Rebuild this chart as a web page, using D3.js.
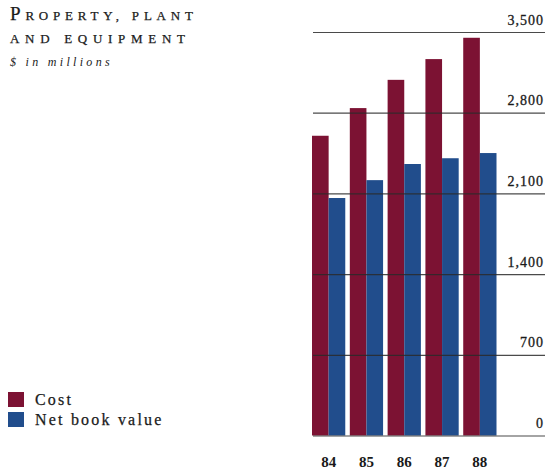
<!DOCTYPE html>
<html>
<head>
<meta charset="utf-8">
<script src="https://cdn.jsdelivr.net/npm/d3@7"></script>
<style>
  html, body { margin: 0; padding: 0; background: #fff; }
  svg { display: block; }
  text { font-family: "Liberation Serif", "Times New Roman", serif; fill: #1a1a1a; }
</style>
</head>
<body>
<svg id="chart" width="546" height="472"></svg>
<script>
// Property, plant and equipment, $ in millions
const years = ["84", "85", "86", "87", "88"];
const cost = [2600, 2840, 3085, 3265, 3450];
const netBookValue = [2060, 2215, 2355, 2405, 2450];
const yTicks = [0, 700, 1400, 2100, 2800, 3500];
const seriesNames = ["Cost", "Net book value"];
const seriesColors = ["#7c1233", "#214d8c"];

const svg = d3.select("#chart");

const y = d3.scaleLinear().domain([0, 3500]).range([435.5, 32]);
const x = d3.scaleBand().domain(years).range([312, 496.5]).paddingInner(0.12).paddingOuter(0);
const xs = d3.scaleBand().domain(seriesNames).range([0, x.bandwidth()]).padding(0);

const rows = years.map((yr, i) => ({ year: yr, values: [cost[i], netBookValue[i]] }));

// Bars
const groups = svg.append("g").selectAll("g")
  .data(rows)
  .join("g")
  .attr("transform", d => `translate(${x(d.year)},0)`);

groups.selectAll("rect")
  .data(d => d.values.map((v, j) => ({ name: seriesNames[j], value: v, color: seriesColors[j] })))
  .join("rect")
  .attr("x", d => xs(d.name))
  .attr("width", xs.bandwidth())
  .attr("y", d => y(d.value))
  .attr("height", d => y(0) - y(d.value))
  .attr("fill", d => d.color);

// Gridlines with value labels on the right, drawn over the bars
const yAxis = d3.axisRight(y)
  .tickValues(yTicks)
  .tickSize(545 - 313)
  .tickFormat(d3.format(","));

const ya = svg.append("g")
  .attr("transform", "translate(313,0)")
  .call(yAxis);
ya.select(".domain").remove();
ya.selectAll(".tick line")
  .attr("stroke", "#2a2a2a")
  .attr("stroke-opacity", 0.85)
  .attr("stroke-width", 1.2);
ya.selectAll(".tick text")
  .attr("x", 545 - 313 - 1)
  .attr("dy", -8)
  .attr("text-anchor", "end")
  .style("font-size", "14px")
  .style("letter-spacing", "1px")
  .style("stroke", "#1a1a1a")
  .style("stroke-width", "0.3px")
  .style("fill", "#1a1a1a");

// Year labels
const xAxis = d3.axisBottom(x).tickSize(0);
const xa = svg.append("g")
  .attr("transform", "translate(0,452)")
  .call(xAxis);
xa.select(".domain").remove();
xa.selectAll(".tick text")
  .attr("dy", "0.78em")
  .style("font-size", "15px")
  .style("font-weight", "bold")
  .style("fill", "#1a1a1a");

// Title block
const title = svg.append("text").attr("x", 10).attr("y", 20)
  .style("letter-spacing", "4.8px")
  .style("stroke", "#1a1a1a").style("stroke-width", "0.25px");
title.append("tspan").style("font-size", "19px").text("P");
title.append("tspan").style("font-size", "13px").text("ROPERTY, PLANT");

svg.append("text").attr("x", 10).attr("y", 43)
  .style("font-size", "13px")
  .style("letter-spacing", "5.7px")
  .style("stroke", "#1a1a1a").style("stroke-width", "0.25px")
  .text("AND EQUIPMENT");

svg.append("text").attr("x", 10).attr("y", 66)
  .style("font-size", "12px")
  .style("font-style", "italic")
  .style("letter-spacing", "3.3px")
  .text("$ in millions");

// Legend
const legend = svg.append("g").selectAll("g")
  .data(seriesNames)
  .join("g")
  .attr("transform", (d, i) => `translate(8,${392 + i * 20})`);
legend.append("rect")
  .attr("width", 16)
  .attr("height", 15)
  .attr("fill", (d, i) => seriesColors[i]);
legend.append("text")
  .attr("x", 27)
  .attr("y", 13)
  .style("font-size", "16px")
  .style("letter-spacing", "2.2px")
  .style("stroke", "#1a1a1a").style("stroke-width", "0.25px")
  .text(d => d);
</script>
</body>
</html>
